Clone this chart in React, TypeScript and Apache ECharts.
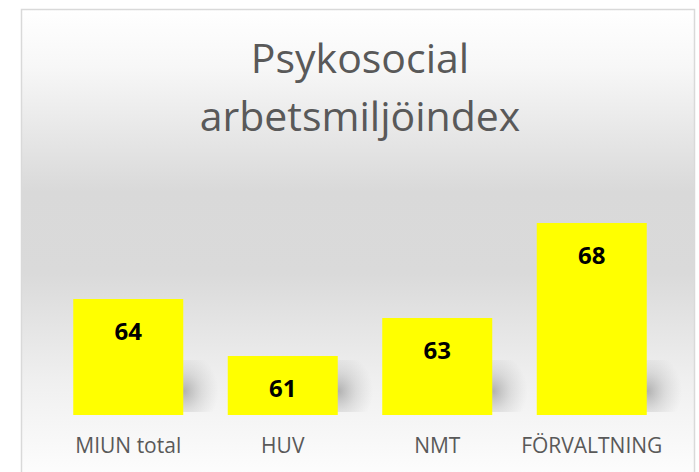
import React, { useEffect, useRef } from "react";
import * as echarts from "echarts";

const categories = ["MIUN total", "HUV", "NMT", "FÖRVALTNING"];
const values = [64, 61, 63, 68];
const titleLines = ["Psykosocial", "arbetsmiljöindex"];

export default function App() {
  const ref = useRef<HTMLDivElement>(null);
  useEffect(() => {
    if (!ref.current) return;
    const chart = echarts.init(ref.current, undefined, { renderer: "svg" });
    const font = "'Open Sans', 'Noto Sans', sans-serif";
    chart.setOption({
      animation: false,
      backgroundColor: "#ffffff",
      graphic: [
        {
          type: "rect",
          z: -10,
          silent: true,
          shape: { x: 21.5, y: 9.5, width: 673, height: 480 },
          style: {
            fill: {
              type: "linear",
              x: 0, y: 0, x2: 0, y2: 1,
              colorStops: [
                { offset: 0, color: "#ffffff" },
                { offset: 0.12, color: "#f7f7f7" },
                { offset: 0.38, color: "#d9d9d9" },
                { offset: 0.55, color: "#dadada" },
                { offset: 0.78, color: "#f0f0f0" },
                { offset: 1, color: "#ffffff" },
              ],
            },
            stroke: "#d9d9d9",
            lineWidth: 1.5,
          },
        },
        {
          type: "text",
          silent: true,
          style: {
            text: titleLines.join("\n"),
            x: 360,
            y: 28,
            align: "center",
            verticalAlign: "top",
            fill: "#595959",
            font: `41px ${font}`,
            lineHeight: 58,
          },
        },
      ],
      grid: { left: 51, right: 30, top: 185, bottom: 57 },
      xAxis: {
        type: "category",
        data: categories,
        axisLine: { show: false },
        axisTick: { show: false },
        axisLabel: {
          color: "#595959",
          fontSize: 21,
          fontFamily: font,
          margin: 19,
          interval: 0,
        },
      },
      yAxis: {
        type: "value",
        min: 57.9,
        max: 70,
        show: false,
        splitLine: { show: false },
      },
      series: [
        {
          type: "custom",
          z: 1,
          silent: true,
          data: values.map((v, i) => [i, v]),
          renderItem: (params: any, api: any) => {
            const base = api.coord([api.value(0), 57.9]);
            const right = base[0] + 55;
            const bottom = base[1];
            return {
              type: "rect",
              shape: { x: right - 6, y: bottom - 55, width: 46, height: 52 },
              style: {
                fill: {
                  type: "radial",
                  x: 0.15,
                  y: 0.6,
                  r: 0.75,
                  colorStops: [
                    { offset: 0, color: "rgba(90,90,90,0.42)" },
                    { offset: 0.5, color: "rgba(120,120,120,0.18)" },
                    { offset: 1, color: "rgba(150,150,150,0)" },
                  ],
                },
              },
            };
          },
        },
        {
          type: "bar",
          z: 2,
          data: values,
          barWidth: 110,
          itemStyle: { color: "#ffff00" },
          label: {
            show: true,
            position: "insideTop",
            distance: 19,
            color: "#000000",
            fontWeight: "bold",
            fontSize: 24,
            fontFamily: font,
          },
        },
      ],
    });
    return () => chart.dispose();
  }, []);
  return (
    <div
      ref={ref}
      style={{ position: "fixed", left: 0, top: 0, width: 699, height: 472 }}
    />
  );
}
